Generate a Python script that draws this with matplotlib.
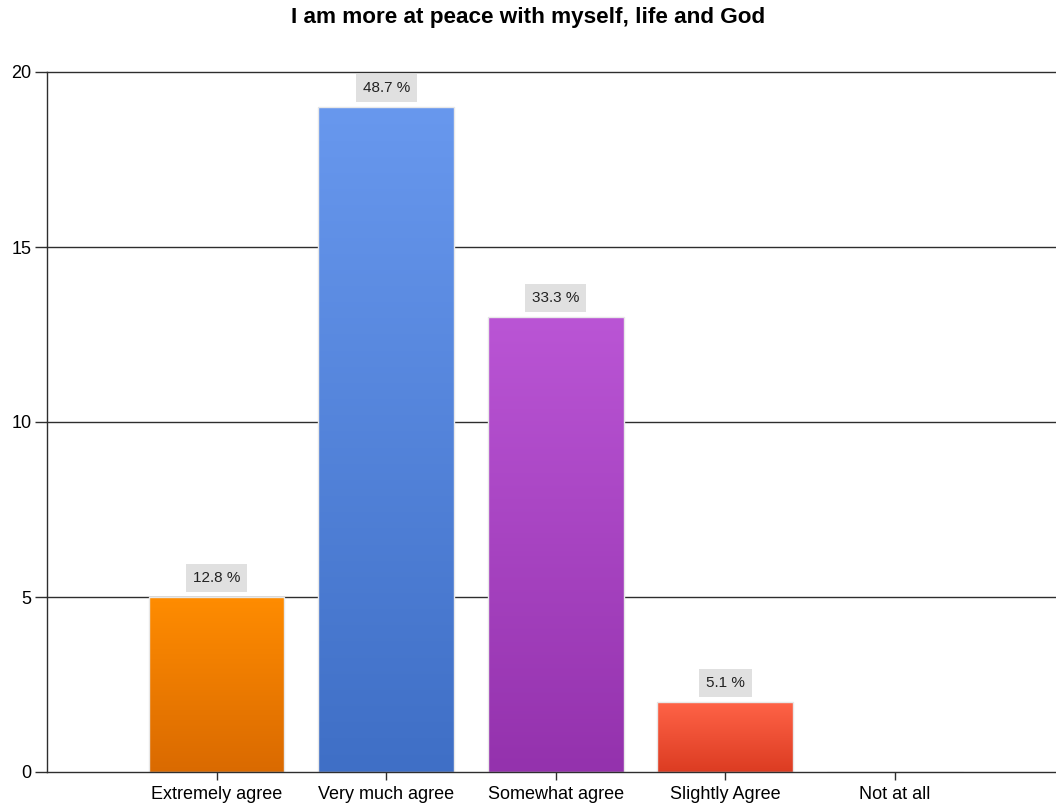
import matplotlib
matplotlib.use("Agg")
import matplotlib.pyplot as plt
import numpy as np
from matplotlib.colors import LinearSegmentedColormap

categories = ["Extremely agree", "Very much agree", "Somewhat agree", "Slightly Agree", "Not at all"]
counts = [5, 19, 13, 2, 0]
percent_labels = ["12.8 %", "48.7 %", "33.3 %", "5.1 %", ""]
top_colors = ["#FF8C00", "#6898EE", "#BA55D5", "#FF6347", "#888888"]
bottom_colors = ["#DA6A00", "#3F6FC6", "#9432AD", "#DC3C22", "#888888"]
title = "I am more at peace with myself, life and God"
yticks = [0, 5, 10, 15, 20]

plt.rcParams['font.family'] = ['Liberation Sans', 'DejaVu Sans']

fig = plt.figure(figsize=(10.56, 8.09), dpi=100)
W, H = 1056, 809
ax = fig.add_axes([47 / W, (H - 772) / H, 1 - 47 / W, (772 - 72) / H])

x = np.arange(1, len(categories) + 1)
ax.set_xlim(0, 5.95)
ax.set_ylim(0, 20)

for yv in yticks:
    ax.axhline(yv, color="#2e2e2e", lw=1.0, zorder=1 if yv else 6, clip_on=False)

bars = ax.bar(x, counts, width=0.8, color="none", edgecolor="#e8e8e8", lw=1.0, zorder=3)
grad = np.linspace(1, 0, 256).reshape(-1, 1)
for b, c, tc, bc, lab in zip(bars, counts, top_colors, bottom_colors, percent_labels):
    if c <= 0:
        continue
    cmap = LinearSegmentedColormap.from_list("g", [bc, tc])
    x0 = b.get_x()
    im = ax.imshow(grad, cmap=cmap, aspect="auto", extent=[x0, x0 + b.get_width(), 0, c],
                   zorder=2, interpolation="bicubic")
    im.set_clip_path(b)
    ax.annotate(lab, (b.get_x() + b.get_width() / 2, c), xytext=(0, 13.5), textcoords="offset points",
                ha="center", va="center", fontsize=11, color="#222222", zorder=5,
                bbox=dict(boxstyle="square,pad=0.45", fc="#e0e0e0", ec="none"))

ax.set_xticks(x)
ax.set_xticklabels(categories, fontsize=13)
ax.set_yticks(yticks)
ax.set_yticklabels([str(v) for v in yticks], fontsize=13)
ax.tick_params(axis="y", length=9, width=1, color="#2e2e2e", pad=2)
ax.tick_params(axis="x", length=6, width=1, color="#2e2e2e", pad=4)
for s in ["top", "right", "bottom"]:
    ax.spines[s].set_visible(False)
ax.spines["left"].set_color("#2e2e2e")
ax.spines["left"].set_linewidth(1.0)
ax.spines["left"].set_zorder(6)

fig.text(528 / W, 1 - 18 / H, title, ha="center", va="center", fontsize=16.2, fontweight="bold")

fig.savefig("out.png", dpi=100)
